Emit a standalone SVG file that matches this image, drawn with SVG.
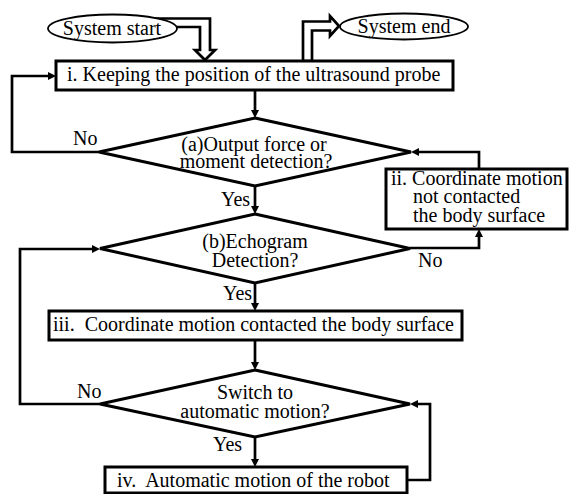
<svg xmlns="http://www.w3.org/2000/svg" width="569" height="494" viewBox="0 0 569 494">
<defs>
<style>
text{font-family:'Liberation Serif','Times New Roman',serif;font-size:20px;fill:#000}
.box{fill:#fff;stroke:#000;stroke-width:3}
.dia{fill:#fff;stroke:#000;stroke-width:3;stroke-linejoin:miter}
.ell{fill:#fff;stroke:#000;stroke-width:1.8}
.con{fill:none;stroke:#000;stroke-width:2.7}
.hol{fill:#fff;stroke:#000;stroke-width:2.7;stroke-linejoin:miter}
.mid{text-anchor:middle}
</style>
<marker id="ah" markerWidth="8" markerHeight="8" viewBox="0 0 8 8" refX="0.5" refY="4" orient="auto" markerUnits="userSpaceOnUse">
<path d="M0,0 L8,4 L0,8 z" fill="#000"/>
</marker>
</defs>
<rect width="569" height="494" fill="#fff"/>
<g id="connectors">
<path class="hol" d="M150,18.5 H210 V50 H215 L205,60 L195,50 H200 V27 H150 z"/>
<path class="hol" d="M303,61 V21.5 H330 V16 L339,26 L330,36 V30.5 H312 V61 z"/>
<path class="con" marker-end="url(#ah)" d="M255,90 V110.5"/>
<path class="con" marker-end="url(#ah)" d="M99,152 H12 V76 H48.5"/>
<path class="con" marker-end="url(#ah)" d="M255,186 V206.5"/>
<path class="con" marker-end="url(#ah)" d="M410,248 H479 V236.5"/>
<path class="con" marker-end="url(#ah)" d="M479,169 V152 H418.5"/>
<path class="con" marker-end="url(#ah)" d="M255,283 V303.5"/>
<path class="con" marker-end="url(#ah)" d="M255,340 V362.5"/>
<path class="con" marker-end="url(#ah)" d="M100,404 H20 V249 H92.5"/>
<path class="con" marker-end="url(#ah)" d="M255,437 V459.5"/>
<path class="con" marker-end="url(#ah)" d="M407,480 H430 V404 H417.5"/>
<text x="73" y="145">No</text>
<text x="221" y="206">Yes</text>
<text x="418" y="267">No</text>
<text x="223" y="300">Yes</text>
<text x="77" y="398">No</text>
<text x="213" y="451">Yes</text>
</g>
<g id="start">
<ellipse class="ell" cx="112.5" cy="28.5" rx="64.5" ry="14"/>
<text class="mid" x="112" y="35">System start</text>
</g>
<g id="end">
<ellipse class="ell" cx="404" cy="26.5" rx="64" ry="13"/>
<text class="mid" x="404" y="33">System end</text>
</g>
<g id="step-i">
<rect class="box" x="56" y="61" width="397" height="29"/>
<text x="67" y="81">i. Keeping the position of the ultrasound probe</text>
</g>
<g id="decision-a">
<polygon class="dia" points="255,118 411,152 255,186 99,152"/>
<text class="mid" x="254" y="151">(a)Output force or</text>
<text class="mid" x="256" y="168">moment detection?</text>
</g>
<g id="step-ii">
<rect class="box" x="386" y="169" width="181" height="60"/>
<text x="391" y="185">ii. Coordinate motion</text>
<text x="413" y="203">not contacted</text>
<text x="413" y="222">the body surface</text>
</g>
<g id="decision-b">
<polygon class="dia" points="255,214 410,248.5 255,283 100,248.5"/>
<text class="mid" x="255" y="248">(b)Echogram</text>
<text class="mid" x="255" y="267">Detection?</text>
</g>
<g id="step-iii">
<rect class="box" x="49" y="311" width="413" height="29"/>
<text x="53" y="331" xml:space="preserve">iii.  Coordinate motion contacted the body surface</text>
</g>
<g id="decision-c">
<polygon class="dia" points="255,370 410,404 255,437 100,404"/>
<text class="mid" x="255" y="399">Switch to</text>
<text class="mid" x="255" y="418">automatic motion?</text>
</g>
<g id="step-iv">
<rect class="box" x="105" y="467" width="302" height="26"/>
<text x="117" y="487" xml:space="preserve">iv.  Automatic motion of the robot</text>
</g>
</svg>
